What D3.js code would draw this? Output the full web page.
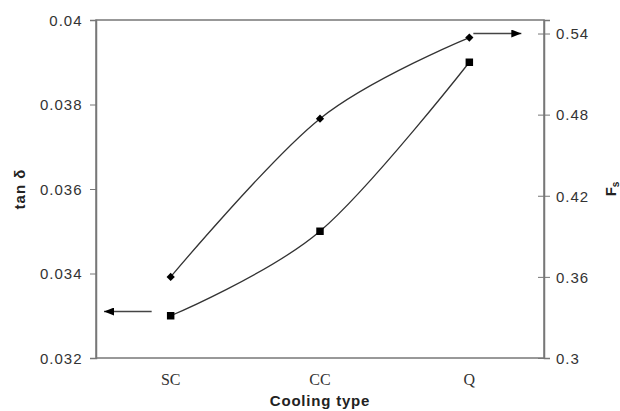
<!DOCTYPE html>
<html>
  <head>
    <meta charset="utf-8">
    <title></title>
  </head>
  <style>
  body{
    margin: 0;
    background: #fff;
  }
  .tick text{
    font-family: "Liberation Sans", Arial, sans-serif;
    font-size: 15px;
    letter-spacing: 1px;
    fill: #333;
  }
  .axis path, .axis line{
    stroke: #777;
  }
  </style>
  <script src="https://d3js.org/d3.v7.min.js"></script>
  <body>
    <script>
    // data
    var categories = ["SC", "CC", "Q"]
    var tanDelta = [0.0330, 0.0350, 0.0390]   // squares, left axis
    var fs = [0.360, 0.477, 0.537]            // diamonds, right axis
    var leftTicks = [0.032, 0.034, 0.036, 0.038, 0.04]
    var rightTicks = [0.3, 0.36, 0.42, 0.48, 0.54]

    var width = 620, height = 411
    var padding = { left: 96, top: 20, right: 76, bottom: 53 }

    var svg = d3.select("body")
                .append("svg")
                .attr("width", width)
                .attr("height", height)

    var xScale = d3.scalePoint()
                   .domain(categories)
                   .range([padding.left, width - padding.right])
                   .padding(0.5)

    var yLeft = d3.scaleLinear()
                  .domain([0.032, 0.04])
                  .range([height - padding.bottom, padding.top])

    var yRight = d3.scaleLinear()
                   .domain([0.3, 0.55])
                   .range([height - padding.bottom, padding.top])

    // frame
    svg.append("rect")
       .attr("x", padding.left)
       .attr("y", padding.top)
       .attr("width", width - padding.left - padding.right)
       .attr("height", height - padding.top - padding.bottom)
       .attr("fill", "none")
       .attr("stroke", "#777")
       .attr("stroke-width", 1.5)

    // left axis
    var gl = svg.append("g")
                .attr("class", "axis")
                .attr("transform", "translate(" + padding.left + ",0)")
                .call(d3.axisLeft(yLeft).tickValues(leftTicks).tickSize(6).tickFormat(d3.format("")))
    gl.select(".domain").attr("stroke-width", 1.5)
    gl.selectAll(".tick text").attr("dx", "-0.3em").attr("dy", "0.35em")

    // right axis, ticks cross the line
    var gr = svg.append("g")
                .attr("class", "axis")
                .attr("transform", "translate(" + (width - padding.right) + ",0)")
                .call(d3.axisRight(yRight).tickValues(rightTicks).tickSize(6).tickFormat(d3.format("")))
    gr.select(".domain").attr("stroke-width", 1.5)
    gr.selectAll(".tick line").attr("x1", -6)
    gr.selectAll(".tick text").attr("dx", "0.2em").attr("dy", "0.35em")

    // category labels
    svg.append("g")
       .selectAll("text")
       .data(categories)
       .enter()
       .append("text")
       .attr("x", function(d){ return xScale(d) })
       .attr("y", height - padding.bottom + 27)
       .attr("text-anchor", "middle")
       .attr("font-family", "Liberation Serif, Times New Roman, serif")
       .attr("font-size", 16)
       .attr("fill", "#333")
       .text(function(d){ return d })

    // smooth lines
    var lineL = d3.line()
                  .x(function(d, i){ return xScale(categories[i]) })
                  .y(function(d){ return yLeft(d) })
                  .curve(d3.curveCardinal.tension(0))
    var lineR = d3.line()
                  .x(function(d, i){ return xScale(categories[i]) })
                  .y(function(d){ return yRight(d) })
                  .curve(d3.curveCardinal.tension(0))

    svg.append("path")
       .attr("d", lineL(tanDelta))
       .attr("fill", "none")
       .attr("stroke", "#333")
       .attr("stroke-width", 1.3)
    svg.append("path")
       .attr("d", lineR(fs))
       .attr("fill", "none")
       .attr("stroke", "#333")
       .attr("stroke-width", 1.3)

    // markers
    svg.append("g")
       .selectAll("path")
       .data(tanDelta)
       .enter()
       .append("path")
       .attr("transform", function(d, i){ return "translate(" + xScale(categories[i]) + "," + yLeft(d) + ")" })
       .attr("d", d3.symbol().type(d3.symbolSquare).size(56))
       .attr("fill", "#000")
    svg.append("g")
       .selectAll("path")
       .data(fs)
       .enter()
       .append("path")
       .attr("transform", function(d, i){ return "translate(" + xScale(categories[i]) + "," + yRight(d) + ") rotate(45)" })
       .attr("d", d3.symbol().type(d3.symbolSquare).size(34))
       .attr("fill", "#000")

    // arrows showing which axis each series uses
    var defs = svg.append("defs")
    defs.append("marker")
        .attr("id", "head")
        .attr("viewBox", "0 0 10 8")
        .attr("refX", 10)
        .attr("refY", 4)
        .attr("markerWidth", 11)
        .attr("markerHeight", 8)
        .attr("markerUnits", "userSpaceOnUse")
        .attr("orient", "auto")
        .append("path")
        .attr("d", "M0,0L10,4L0,8Z")
        .attr("fill", "#000")

    svg.append("line")
       .attr("x1", xScale("SC") - 19)
       .attr("x2", padding.left + 8)
       .attr("y1", yLeft(0.0331))
       .attr("y2", yLeft(0.0331))
       .attr("stroke", "#444")
       .attr("stroke-width", 1.5)
       .attr("marker-end", "url(#head)")

    svg.append("line")
       .attr("x1", xScale("Q") + 4)
       .attr("x2", xScale("Q") + 52)
       .attr("y1", yRight(0.54))
       .attr("y2", yRight(0.54))
       .attr("stroke", "#444")
       .attr("stroke-width", 1.5)
       .attr("marker-end", "url(#head)")

    // axis titles
    svg.append("text")
       .attr("transform", "translate(25," + ((padding.top + height - padding.bottom) / 2) + ") rotate(-90)")
       .attr("text-anchor", "middle")
       .attr("font-family", "Liberation Sans, Arial, sans-serif")
       .attr("font-weight", "bold")
       .attr("font-size", 15)
       .attr("letter-spacing", 1)
       .attr("fill", "#222")
       .text("tan δ")

    var fsLabel = svg.append("text")
       .attr("transform", "translate(616," + ((padding.top + height - padding.bottom) / 2) + ") rotate(-90)")
       .attr("text-anchor", "middle")
       .attr("font-family", "Liberation Sans, Arial, sans-serif")
       .attr("font-weight", "bold")
       .attr("font-size", 15)
       .attr("fill", "#222")
    fsLabel.append("tspan").text("F")
    fsLabel.append("tspan").attr("font-size", 10).attr("dy", 3).text("s")

    svg.append("text")
       .attr("x", xScale("CC"))
       .attr("y", height - 5)
       .attr("text-anchor", "middle")
       .attr("font-family", "Liberation Sans, Arial, sans-serif")
       .attr("font-weight", "bold")
       .attr("font-size", 15)
       .attr("letter-spacing", 0.8)
       .attr("fill", "#222")
       .text("Cooling type")
    </script>
  </body>
</html>
